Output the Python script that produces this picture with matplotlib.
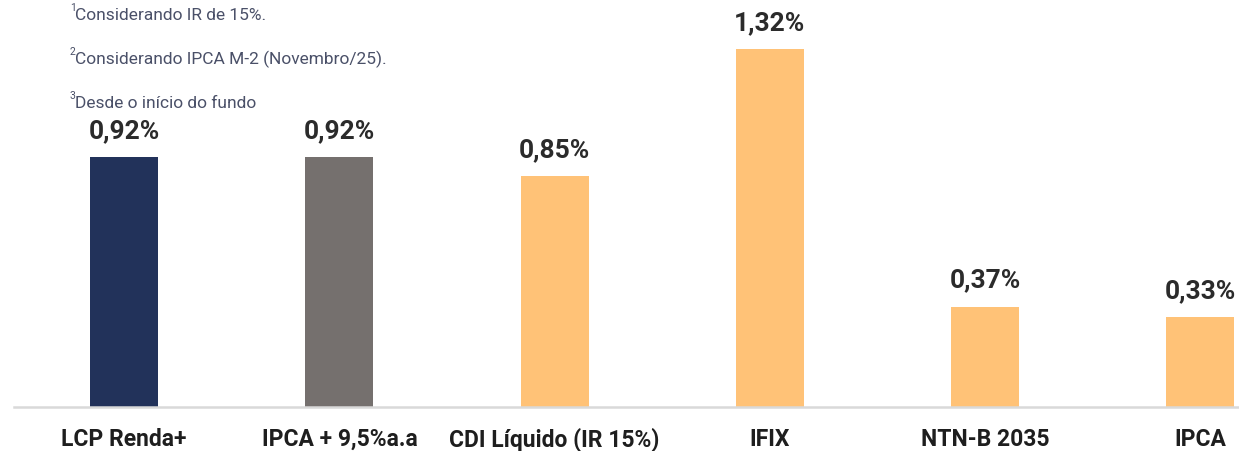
import matplotlib.pyplot as plt

# dados do gráfico
categorias = ['LCP Renda+', 'IPCA + 9,5%a.a', 'CDI Líquido (IR 15%)', 'IFIX', 'NTN-B 2035', 'IPCA']
valores = [0.92, 0.92, 0.85, 1.32, 0.37, 0.33]
rotulos = ['0,92%', '0,92%', '0,85%', '1,32%', '0,37%', '0,33%']
cores = ['#22325a', '#75706e', '#ffc277', '#ffc277', '#ffc277', '#ffc277']
notas = ['Considerando IR de 15%.', 'Considerando IPCA M-2 (Novembro/25).', 'Desde o início do fundo']

plt.rcParams['font.family'] = ['Roboto', 'DejaVu Sans']

fig = plt.figure(figsize=(12.39, 4.51), dpi=100)
ax = fig.add_axes([14 / 1239, 44 / 451, 1225 / 1239, 407 / 451])

x = list(range(len(categorias)))
ax.bar(x, valores, width=0.316, color=cores, zorder=2)

for xi, v, r in zip(x, valores, rotulos):
    ax.annotate(r, (xi, v), xytext=(0, 10), textcoords='offset points',
                ha='center', va='bottom', fontsize=19, fontweight='bold', color='#2b2b2b')

ax.set_xlim(-0.512, 5.18)
ax.set_ylim(0, 1.5)
ax.set_xticks(x)
ax.set_xticklabels(categorias, fontsize=16.5, fontweight='bold', color='#1e1e1e')
ax.tick_params(axis='x', length=0, pad=15)
ax.set_yticks([])
for s in ['top', 'right', 'left']:
    ax.spines[s].set_visible(False)
ax.spines['bottom'].set_color('#d9d9d9')
ax.spines['bottom'].set_linewidth(1.8)

# notas de rodapé no topo
for i, nota in enumerate(notas):
    ytop = 1 - (15 + 44 * i) / 451
    fig.text(70 / 1239, ytop + 7 / 451, str(i + 1), fontsize=7.5, color='#4a5068', va='center')
    fig.text(75 / 1239, ytop, nota, fontsize=12.5, color='#4a5068', va='center')

fig.savefig('out.png', dpi=100)
